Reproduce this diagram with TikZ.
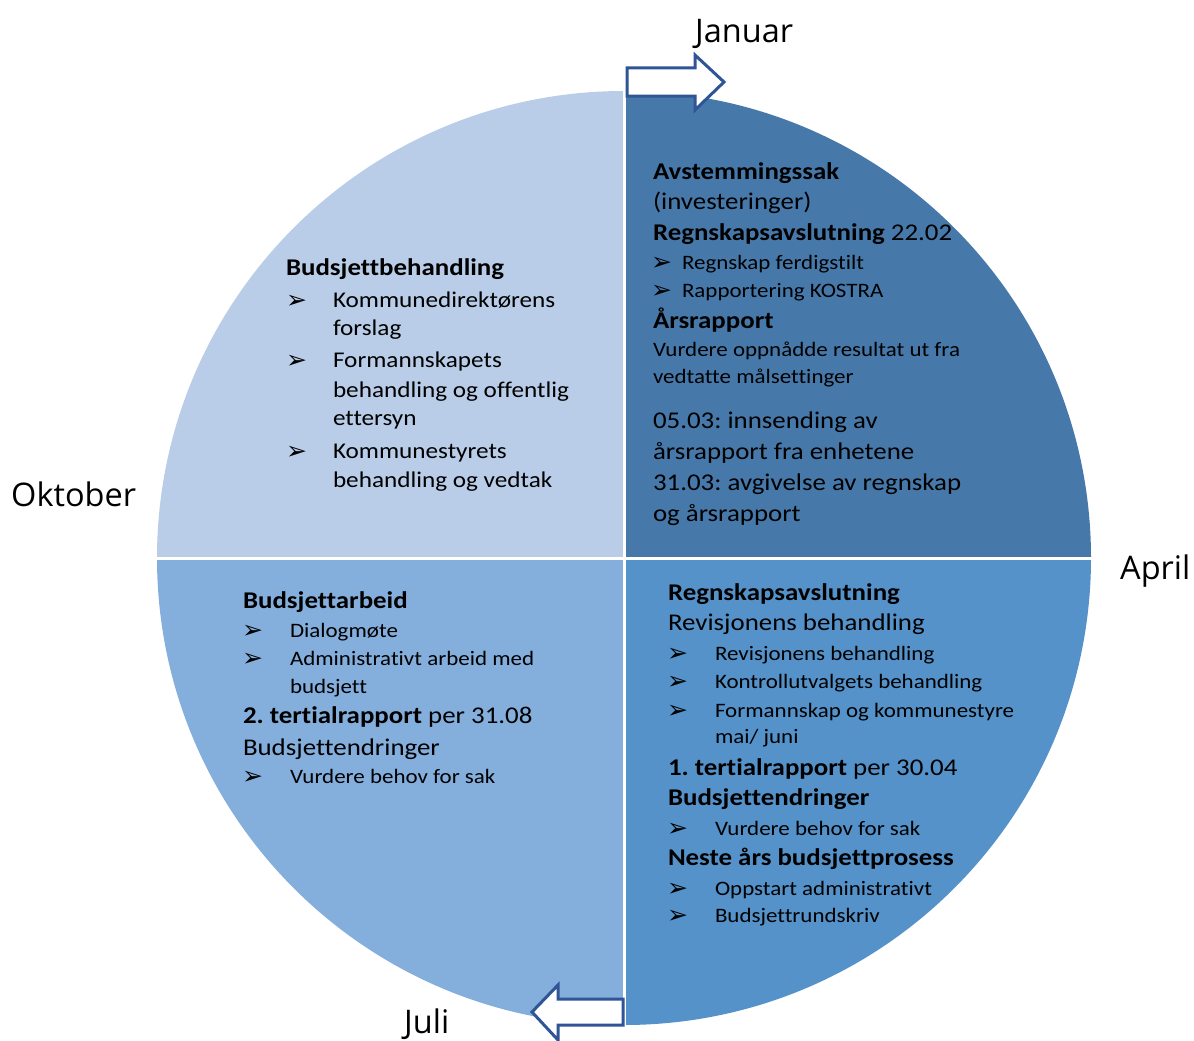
\documentclass[tikz,border=0pt]{standalone}
\usepackage{fontspec}
\setmainfont{Carlito}[FakeStretch=1.12,Ligatures=CommonOff]
\newfontfamily\labfont{Open Sans}
\newfontfamily\symfont{DejaVu Sans}
\definecolor{qtl}{RGB}{185,205,232}
\definecolor{qtr}{RGB}{70,121,170}
\definecolor{qbl}{RGB}{132,174,220}
\definecolor{qbr}{RGB}{84,146,201}
\definecolor{arrblue}{RGB}{47,85,151}
\newcommand{\bul}{{\symfont\fontsize{25}{25}\selectfont ➢}}
\begin{document}
\frenchspacing
\begin{tikzpicture}[x=1pt,y=-1pt,
  txt/.style={anchor=base west,inner sep=0pt,outer sep=0pt,text=black},
  hd/.style={txt,font=\fontsize{24}{28}\selectfont\bfseries},
  bd/.style={txt,font=\fontsize{24}{28}\selectfont},
  md/.style={txt,font=\fontsize{22.5}{26}\selectfont},
  sm/.style={txt,font=\fontsize{20.5}{24}\selectfont},
  bl/.style={txt},
  lab/.style={anchor=base west,inner sep=0pt,font=\labfont\fontsize{32.5}{38}\selectfont},
  sep/.style={white,line width=3pt},
  arr/.style={fill=white,draw=arrblue,line width=3pt,line join=miter}]
\useasboundingbox (0,0) rectangle (1194,1041);
\coordinate (c) at (624,558);
% quadrants
\fill[qtl] (c) -- ++(-467,0) arc[start angle=180,end angle=270,radius=467] -- cycle;
\fill[qtr] (c) -- ++(0,-467) arc[start angle=270,end angle=360,radius=467] -- cycle;
\fill[qbr] (c) -- ++(467,0) arc[start angle=0,end angle=90,radius=467] -- cycle;
\fill[qbl] (c) -- ++(0,467) arc[start angle=90,end angle=180,radius=467] -- cycle;
\coordinate (vt) at (624,88);
\coordinate (vb) at (624,1028);
\coordinate (hl) at (154,558);
\coordinate (hr) at (1094,558);
\draw[sep] (vt) -- (vb);
\draw[sep] (hl) -- (hr);
% arrows
\draw[arr] (627,68) -- (695,68) -- (695,55) -- (724,82) -- (695,110) -- (695,96) -- (627,96) -- cycle;
\draw[arr] (623,999) -- (558,999) -- (558,985) -- (532,1012) -- (558,1040) -- (558,1025) -- (623,1025) -- cycle;
% month labels
\node[lab] (jan) at (695,43) {Januar};
\node[lab] (okt) at (11,506) {Oktober};
\node[lab] (apr) at (1120,579) {April};
\node[lab] (jul) at (404,1033) {Juli};
% top right
\node[hd] (a1) at (653,179) {Avstemmingssak};
\node[bd] (a2) at (653,209) {(investeringer)};
\node[bd] (a3) at (653,240) {\textbf{Regnskapsavslutning} 22.02};
\node[bl] (a4b) at (651,270) {\bul};
\node[sm] (a4) at (682,269) {Regnskap ferdigstilt};
\node[bl] (a5b) at (651,298) {\bul};
\node[sm] (a5) at (682,297) {Rapportering KOSTRA};
\node[hd] (a6) at (653,328) {Årsrapport};
\node[sm] (a7) at (653,356) {Vurdere oppnådde resultat ut fra};
\node[sm] (a8) at (653,383) {vedtatte målsettinger};
\node[bd] (a9) at (653,428) {05.03: innsending av};
\node[bd] (a10) at (653,459) {årsrapport fra enhetene};
\node[bd] (a11) at (653,490) {31.03: avgivelse av regnskap};
\node[bd] (a12) at (653,521) {og årsrapport};
% top left
\node[hd] (b1) at (286,275) {Budsjettbehandling};
\node[bl] (b2b) at (286,308) {\bul};
\node[md] (b2) at (333,307) {Kommunedirektørens};
\node[md] (b3) at (333,335) {forslag};
\node[bl] (b4b) at (286,368) {\bul};
\node[md] (b4) at (333,367) {Formannskapets};
\node[md] (b5) at (333,397) {behandling og offentlig};
\node[md] (b6) at (333,425) {ettersyn};
\node[bl] (b7b) at (286,459) {\bul};
\node[md] (b7) at (333,458) {Kommunestyrets};
\node[md] (b8) at (333,487) {behandling og vedtak};
% bottom left
\node[hd] (c1) at (243,608) {Budsjettarbeid};
\node[bl] (c2b) at (242,638) {\bul};
\node[sm] (c2) at (290,637) {Dialogmøte};
\node[bl] (c3b) at (242,666) {\bul};
\node[sm] (c3) at (290,665) {Administrativt arbeid med};
\node[sm] (c4) at (290,693) {budsjett};
\node[bd] (c5) at (243,723) {\textbf{2. tertialrapport} per 31.08};
\node[bd] (c6) at (243,755) {Budsjettendringer};
\node[bl] (c7b) at (242,784) {\bul};
\node[sm] (c7) at (290,783) {Vurdere behov for sak};
% bottom right
\node[hd] (d1) at (668,600) {Regnskapsavslutning};
\node[bd] (d2) at (668,630) {Revisjonens behandling};
\node[bl] (d3b) at (667,661) {\bul};
\node[sm] (d3) at (715,660) {Revisjonens behandling};
\node[bl] (d4b) at (667,689) {\bul};
\node[sm] (d4) at (715,688) {Kontrollutvalgets behandling};
\node[bl] (d5b) at (667,718) {\bul};
\node[sm] (d5) at (715,717) {Formannskap og kommunestyre};
\node[sm] (d6) at (715,743) {mai/ juni};
\node[bd] (d7) at (668,775) {\textbf{1. tertialrapport} per 30.04};
\node[hd] (d8) at (668,805) {Budsjettendringer};
\node[bl] (d9b) at (667,836) {\bul};
\node[sm] (d9) at (715,835) {Vurdere behov for sak};
\node[hd] (d10) at (668,865) {Neste års budsjettprosess};
\node[bl] (d11b) at (667,896) {\bul};
\node[sm] (d11) at (715,895) {Oppstart administrativt};
\node[bl] (d12b) at (667,923) {\bul};
\node[sm] (d12) at (715,922) {Budsjettrundskriv};
\end{tikzpicture}
\end{document}
